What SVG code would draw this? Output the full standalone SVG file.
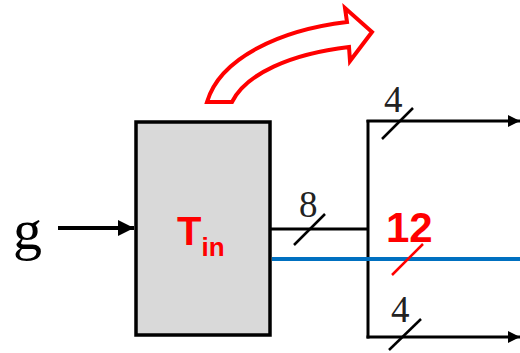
<svg xmlns="http://www.w3.org/2000/svg" width="520" height="353" viewBox="0 0 520 353">
<defs>
<style>
.ln{stroke:#000;stroke-width:3;fill:none}
.sl{stroke:#000;stroke-width:2.5;fill:none}
.num{font-family:"Liberation Serif",serif;font-size:37px;fill:#222}
.red{fill:#ff0000;font-family:"Liberation Sans",Arial,sans-serif;font-weight:bold}
</style>
<marker id="ah" viewBox="0 0 10 10" refX="10" refY="5" markerWidth="4" markerHeight="4.4" orient="auto" markerUnits="strokeWidth">
<path d="M0,0 L10,5 L0,10 Z" fill="#000"/>
</marker>
</defs>
<rect width="520" height="353" fill="#fff"/>
<g id="input-g">
<text x="13" y="249" font-family="Liberation Serif,serif" font-size="58">g</text>
</g>
<g id="box-Tin">
<rect x="136" y="122" width="134" height="213" fill="#d9d9d9" stroke="#000" stroke-width="3.5"/>
<text x="177" y="245" class="red" font-size="40">T<tspan font-size="26" dy="11">in</tspan></text>
</g>
<g id="heat-arrow">
<path d="M207,102 C220,58 280,30 347,22 L345,8 L372,32 L350,61 L349,47 C290,54 246,74 232,102 Z" fill="#fff" stroke="#ff0000" stroke-width="4" stroke-linejoin="miter"/>
</g>
<g id="connectors">
<line x1="58" y1="228" x2="134" y2="228" stroke="#000" stroke-width="4" marker-end="url(#ah)"/>
<line x1="271" y1="229" x2="369" y2="229" class="ln"/>
<line x1="368" y1="120" x2="368" y2="338.5" class="ln"/>
<line x1="366.5" y1="121" x2="520" y2="121" class="ln" marker-end="url(#ah)"/>
<line x1="366.5" y1="337" x2="520" y2="337" class="ln" marker-end="url(#ah)"/>
<line x1="272" y1="259" x2="520" y2="259" stroke="#0070c0" stroke-width="4"/>
<line x1="294" y1="245" x2="325" y2="214" class="sl"/>
<line x1="382" y1="139" x2="413" y2="108" class="sl"/>
<line x1="389" y1="350" x2="421" y2="319" class="sl"/>
<line x1="392" y1="275" x2="423" y2="244" stroke="#ff0000" stroke-width="2.5"/>
</g>
<g id="labels">
<text x="299" y="217" class="num">8</text>
<text x="384" y="112" class="num">4</text>
<text x="391" y="322" class="num">4</text>
<text x="386" y="242" class="red" font-size="42">12</text>
</g>
</svg>
